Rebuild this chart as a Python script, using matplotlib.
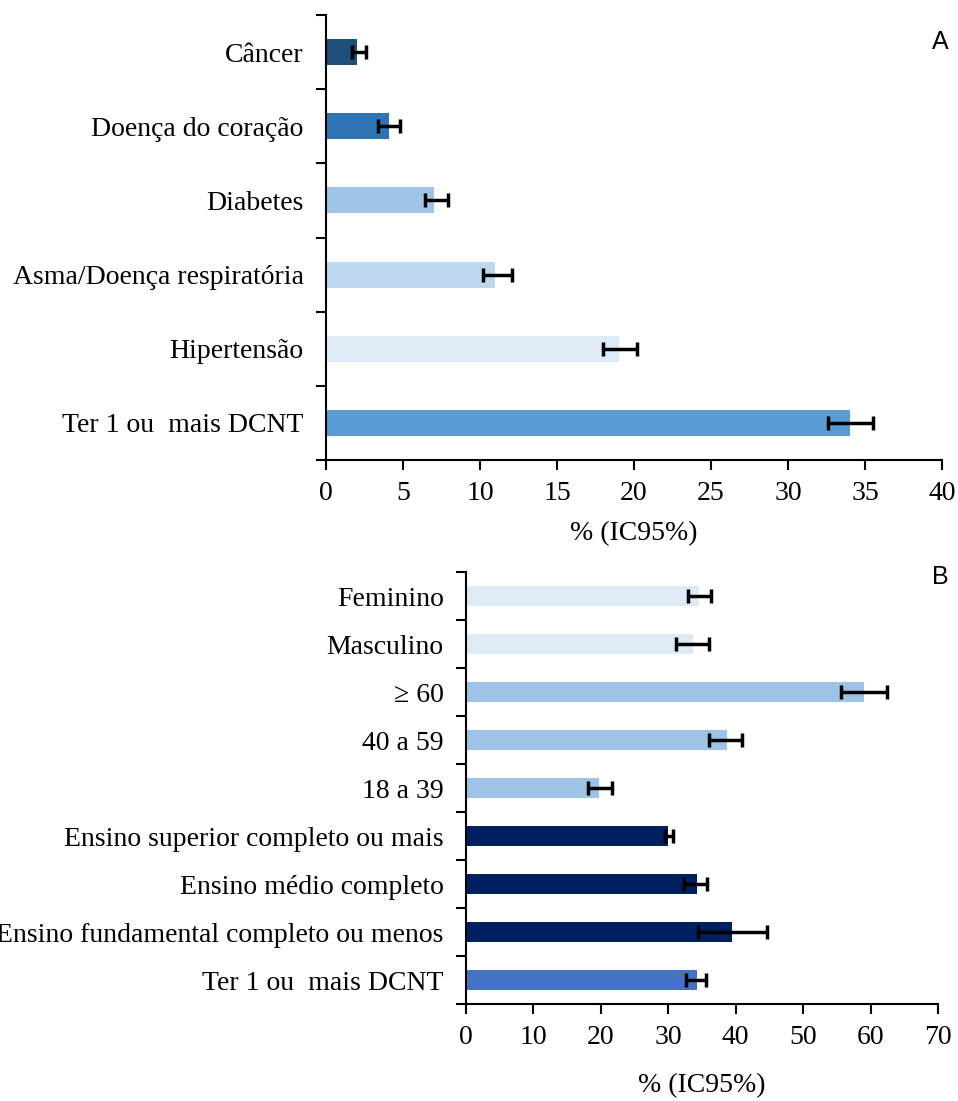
import matplotlib
matplotlib.use("Agg")
import matplotlib.pyplot as plt
import numpy as np

# Panel A
cats_a = ["Câncer", "Doença do coração", "Diabetes", "Asma/Doença respiratória",
          "Hipertensão", "Ter 1 ou  mais DCNT"]
vals_a = [2.0, 4.1, 7.0, 11.0, 19.0, 34.0]
lo_a = [1.7, 3.4, 6.4, 10.2, 18.0, 32.6]
hi_a = [2.6, 4.8, 7.9, 12.1, 20.2, 35.5]
cols_a = ["#1f4e79", "#2e75b6", "#9dc3e6", "#bdd7ee", "#deebf7", "#5b9bd5"]
xticks_a = [0, 5, 10, 15, 20, 25, 30, 35, 40]

# Panel B
cats_b = ["Feminino", "Masculino", "≥ 60", "40 a 59", "18 a 39",
          "Ensino superior completo ou mais", "Ensino médio completo",
          "Ensino fundamental completo ou menos", "Ter 1 ou  mais DCNT"]
vals_b = [34.5, 33.6, 59.0, 38.7, 19.7, 30.0, 34.3, 39.5, 34.2]
lo_b = [32.9, 31.1, 55.6, 36.1, 18.1, 29.5, 32.3, 34.4, 32.6]
hi_b = [36.3, 36.0, 62.4, 40.9, 21.7, 30.7, 35.8, 44.7, 35.6]
cols_b = ["#deebf7", "#deebf7", "#9dc3e6", "#9dc3e6", "#9dc3e6",
          "#002060", "#002060", "#002060", "#4472c4"]
xticks_b = [0, 10, 20, 30, 40, 50, 60, 70]

W, H = 958, 1101
fig = plt.figure(figsize=(W / 100, H / 100), dpi=100)
serif = ["Liberation Serif", "DejaVu Serif"]


def panel(rect, cats, vals, lo, hi, cols, xticks, barh, fs):
    l, t, r, b = rect
    ax = fig.add_axes([l / W, 1 - b / H, (r - l) / W, (b - t) / H])
    n = len(cats)
    y = np.arange(n)[::-1]
    vals = np.array(vals)
    err = np.vstack([vals - np.array(lo), np.array(hi) - vals])
    ax.barh(y, vals, height=barh, color=cols, zorder=2)
    ax.errorbar(vals, y, xerr=err, fmt="none", ecolor="black", elinewidth=2.5,
                capsize=5, capthick=2.5, zorder=3)
    ax.set_ylim(-0.5, n - 0.5)
    ax.set_xlim(xticks[0], xticks[-1])
    ax.set_xticks(xticks)
    ax.set_xticklabels([str(v) for v in xticks], fontfamily=serif, fontsize=fs)
    ax.set_yticks(np.arange(n + 1) - 0.5)
    ax.set_yticklabels([])
    ax.set_yticks(y, minor=True)
    ax.set_yticklabels(cats, minor=True, fontfamily=serif, fontsize=fs)
    ax.tick_params(axis="y", which="minor", length=0, pad=16)
    ax.tick_params(axis="y", which="major", length=7, width=1.5, direction="out")
    ax.tick_params(axis="x", length=7, width=1.5, direction="out", pad=8)
    for s in ["top", "right"]:
        ax.spines[s].set_visible(False)
    for s in ["left", "bottom"]:
        ax.spines[s].set_linewidth(1.5)
    return ax


ax1 = panel((326, 15, 942, 460), cats_a, vals_a, lo_a, hi_a, cols_a, xticks_a, 0.35, 20)
ax1.set_xlabel("% (IC95%)", fontfamily=serif, fontsize=20, labelpad=11)
ax2 = panel((466, 572, 938, 1004), cats_b, vals_b, lo_b, hi_b, cols_b, xticks_b, 0.4, 20)
ax2.set_xlabel("% (IC95%)", fontfamily=serif, fontsize=20, labelpad=17)

fig.text(940 / W, 1 - 42 / H, "A", fontfamily="Liberation Sans", fontsize=18,
         ha="center", va="center")
fig.text(940 / W, 1 - 577 / H, "B", fontfamily="Liberation Sans", fontsize=18,
         ha="center", va="center")

fig.savefig("out.png", dpi=100)
